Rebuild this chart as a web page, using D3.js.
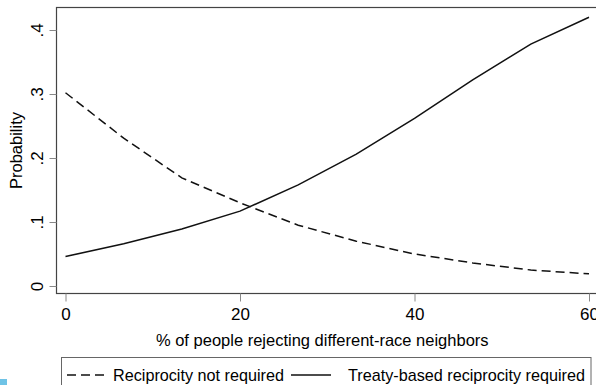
<!DOCTYPE html>
<html>
<head>
<meta charset="utf-8">
<script src="https://cdn.jsdelivr.net/npm/d3@7"></script>
<style>
  html, body { margin: 0; padding: 0; background: #fff; }
  svg { display: block; }
  text { font-family: "Liberation Sans", Arial, sans-serif; fill: #000; }
</style>
</head>
<body>
<script>
// Data
const xValues = [0, 6.67, 13.33, 20, 26.67, 33.33, 40, 46.67, 53.33, 60];
const notRequired = [0.302, 0.231, 0.169, 0.130, 0.095, 0.070, 0.050, 0.036, 0.025, 0.019];
const treatyBased = [0.046, 0.066, 0.089, 0.117, 0.158, 0.206, 0.262, 0.322, 0.378, 0.420];
const xTicks = [0, 20, 40, 60];
const yTicks = [0, 0.1, 0.2, 0.3, 0.4];
const yTickLabels = ["0", ".1", ".2", ".3", ".4"];
const seriesNames = ["Reciprocity not required", "Treaty-based reciprocity required"];
const xTitle = "% of people rejecting different-race neighbors";
const yTitle = "Probability";

const W = 596, H = 385;
const svg = d3.select("body").append("svg").attr("width", W).attr("height", H);

const frame = {left: 56.5, top: 7.5, right: 602, bottom: 293.5};
const x = d3.scaleLinear().domain([0, 60]).range([65.5, 589]);
const y = d3.scaleLinear().domain([0, 0.4]).range([286, 30]);

// frame
svg.append("rect")
  .attr("x", frame.left).attr("y", frame.top)
  .attr("width", frame.right - frame.left).attr("height", frame.bottom - frame.top)
  .attr("fill", "none").attr("stroke", "#444").attr("stroke-width", 1.2);

// x axis
const xAxis = d3.axisBottom(x).tickValues(xTicks).tickSize(8).tickPadding(6).tickFormat(d3.format("d"));
const gx = svg.append("g").attr("transform", `translate(0,${frame.bottom})`).call(xAxis);
gx.select(".domain").remove();
gx.selectAll(".tick line").attr("stroke", "#888").attr("stroke-width", 1);
gx.selectAll(".tick text").style("font-size", "17px").style("font-family", "Liberation Sans, Arial, sans-serif").attr("fill", "#000");

// y axis
const yAxis = d3.axisLeft(y).tickValues(yTicks).tickSize(7).tickPadding(0).tickFormat((d, i) => yTickLabels[i]);
const gy = svg.append("g").attr("transform", `translate(${frame.left},0)`).call(yAxis);
gy.select(".domain").remove();
gy.selectAll(".tick line").attr("stroke", "#888").attr("stroke-width", 1);
gy.selectAll(".tick text")
  .attr("x", null).attr("dy", null)
  .attr("transform", "translate(-14,0) rotate(-90)")
  .attr("text-anchor", "middle")
  .attr("y", 0)
  .style("font-size", "17px").style("font-family", "Liberation Sans, Arial, sans-serif").attr("fill", "#000");

// axis titles
svg.append("text").attr("x", (65.5 + 589) / 2 - 5).attr("y", 346)
  .attr("text-anchor", "middle").style("font-size", "16.5px").text(xTitle);
svg.append("text").attr("transform", `translate(22,${(frame.top + frame.bottom) / 2}) rotate(-90)`)
  .attr("text-anchor", "middle").style("font-size", "16.5px").text(yTitle);

// lines
const line = d3.line().x((d, i) => x(xValues[i])).y(d => y(d));
svg.append("path").datum(notRequired).attr("d", line)
  .attr("fill", "none").attr("stroke", "#111").attr("stroke-width", 1.5).attr("stroke-dasharray", "9,5");
svg.append("path").datum(treatyBased).attr("d", line)
  .attr("fill", "none").attr("stroke", "#111").attr("stroke-width", 1.5);

// legend
svg.append("rect").attr("x", 61.5).attr("y", 357.5).attr("width", 529.5).attr("height", 40)
  .attr("fill", "none").attr("stroke", "#666").attr("stroke-width", 1);
const lg = svg.append("g");
lg.append("line").attr("x1", 67).attr("x2", 104).attr("y1", 375).attr("y2", 375)
  .attr("stroke", "#111").attr("stroke-width", 1.5).attr("stroke-dasharray", "9,5");
lg.append("text").attr("x", 113).attr("y", 381).style("font-size", "16.2px").text(seriesNames[0]);
lg.append("line").attr("x1", 291).attr("x2", 331).attr("y1", 375).attr("y2", 375)
  .attr("stroke", "#111").attr("stroke-width", 1.5);
lg.append("text").attr("x", 348).attr("y", 381).style("font-size", "16.2px").text(seriesNames[1]);

// small artifact mark bottom-left
svg.append("rect").attr("x", 0).attr("y", 379).attr("width", 7).attr("height", 6).attr("fill", "#6fc3e6");
</script>
</body>
</html>
